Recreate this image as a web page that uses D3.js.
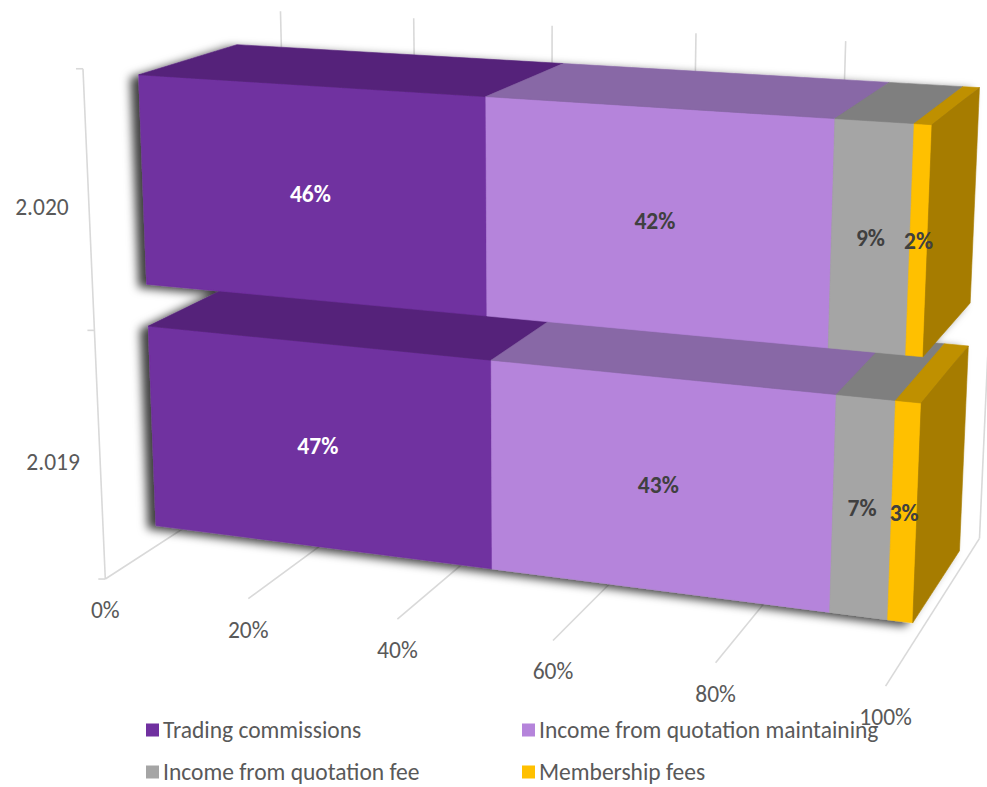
<!DOCTYPE html>
<html>
<head>
<meta charset="utf-8">
<script src="https://cdn.jsdelivr.net/npm/d3@7"></script>
<style>
  body { margin: 0; background: #ffffff; }
  svg { display: block; }
  text { font-family: Carlito, Calibri, Lato, sans-serif; }
</style>
</head>
<body>
<svg id="chart" width="987" height="787"></svg>
<script>
// ---- data ----
const years = ["2.019", "2.020"];
const seriesNames = ["Trading commissions", "Income from quotation maintaining", "Income from quotation fee", "Membership fees"];
const shares2019 = [47, 43, 7, 3];
const shares2020 = [46, 42, 9, 2];
const valueTicks = [0, 0.2, 0.4, 0.6, 0.8, 1];
const tickLabels = ["0%", "20%", "40%", "60%", "80%", "100%"];

// ---- styles ----
const frontColors = ["#7030A0", "#B584DB", "#A5A5A5", "#FFC000"];
const topColors   = ["#55247A", "#8867A6", "#7F7F7F", "#BF9000"];
const sideColors  = ["#4A1F6B", "#7A5C96", "#6E6E6E", "#A67C00"];
const labelColors = ["#FFFFFF", "#404040", "#404040", "#404040"];
const gridColor = "#D9D9D9";
const textColor = "#595959";
const fontSize = 23.5;

const svg = d3.select("#chart");

// ---- perspective camera (world: X = value, Y = up, Z = depth away from viewer) ----
const camera = { cx: 535, cy: 326, focal: 2623, yaw: 20.5, pitch: 14.6, eye: [162.9, 116.3, -278.2] };
const rad = Math.PI / 180;
const sa = Math.sin(camera.yaw * rad), ca = Math.cos(camera.yaw * rad);
const st = Math.sin(camera.pitch * rad), ct = Math.cos(camera.pitch * rad);
const camRight = [ca, 0, sa];
const camDown = [sa * st, -ct, -ca * st];
const camFwd = [-sa * ct, -st, ca * ct];
const dot = (a, b) => a[0] * b[0] + a[1] * b[1] + a[2] * b[2];

function project(p) {
  const v = [p[0] - camera.eye[0], p[1] - camera.eye[1], p[2] - camera.eye[2]];
  const zc = dot(v, camFwd);
  return [camera.cx + camera.focal * dot(v, camRight) / zc,
          camera.cy + camera.focal * dot(v, camDown) / zc];
}
function polyPath(pts, closed = true) {
  return "M" + pts.map(p => project(p).map(n => n.toFixed(2)).join(",")).join("L") + (closed ? "Z" : "");
}

// ---- scales in world units ----
const xW = d3.scaleLinear().domain([0, 1]).range([0, 102]);
const yW = d3.scaleBand().domain(years).range([0, 66]).paddingInner(0.17).paddingOuter(0.085);
const zW = d3.scaleLinear().domain([0, 1]).range([0, 55]);
const barZ = [zW(0.25), zW(0.75)];
const topY = yW.range()[1];

// ---- stacked (100%) layout ----
const rows = years.map((yr, i) => {
  const vals = i === 0 ? shares2019 : shares2020;
  const o = { year: yr };
  seriesNames.forEach((s, j) => { o[s] = vals[j]; });
  return o;
});
const stacked = d3.stack().keys(seriesNames).offset(d3.stackOffsetExpand)(rows);

// ---- walls / floor gridlines ----
const grid = svg.append("g").attr("fill", "none").attr("stroke", gridColor).attr("stroke-width", 1.6);
valueTicks.forEach(t => {
  // back wall vertical
  grid.append("path").attr("d", polyPath([[xW(t), 0, zW(1)], [xW(t), topY, zW(1)]], false));
  // floor line, front to back
  grid.append("path").attr("d", polyPath([[xW(t), 0, zW(0)], [xW(t), 0, zW(1)]], false));
});
// category axis line on the front-left edge, with tick marks at category boundaries
grid.append("path").attr("d", polyPath([[0, 0, 0], [0, topY, 0]], false));
[0, yW.step(), topY].forEach(v => {
  const p = project([0, v, 0]);
  grid.append("line").attr("x1", p[0] - 7).attr("y1", p[1]).attr("x2", p[0]).attr("y2", p[1]);
});

// ---- bars ----
const defs = svg.append("defs");
const filt = defs.append("filter").attr("id", "barShadow")
  .attr("x", "-10%").attr("y", "-10%").attr("width", "120%").attr("height", "120%");
filt.append("feDropShadow").attr("dx", -8).attr("dy", 3).attr("stdDeviation", 5)
  .attr("flood-color", "#000").attr("flood-opacity", 0.75);

const bars = svg.append("g").attr("filter", "url(#barShadow)");
const labels = [];
years.forEach((yr, i) => {
  const y0 = yW(yr), y1 = yW(yr) + yW.bandwidth();
  const [z0, z1] = barZ;
  const g = bars.append("g");
  stacked.forEach((layer, j) => {
    const x0 = xW(layer[i][0]), x1 = xW(layer[i][1]);
    const faces = [
      { pts: [[x0, y0, z0], [x1, y0, z0], [x1, y1, z0], [x0, y1, z0]], fill: frontColors[j] },
      { pts: [[x0, y1, z0], [x1, y1, z0], [x1, y1, z1], [x0, y1, z1]], fill: topColors[j] }
    ];
    if (j === stacked.length - 1) {
      faces.push({ pts: [[x1, y0, z0], [x1, y1, z0], [x1, y1, z1], [x1, y0, z1]], fill: sideColors[j] });
    }
    faces.forEach(f => {
      g.append("path").attr("d", polyPath(f.pts)).attr("fill", f.fill)
        .attr("stroke", f.fill).attr("stroke-width", 0.6).attr("stroke-linejoin", "round");
    });
    const c = project([(x0 + x1) / 2, (y0 + y1) / 2, z0]);
    labels.push({ x: c[0], y: c[1], text: d3.format(".0%")(layer[i].data[seriesNames[j]] / 100), color: labelColors[j] });
  });
});

// ---- data labels ----
svg.append("g").selectAll("text").data(labels).join("text")
  .attr("x", d => d.x).attr("y", d => d.y)
  .attr("text-anchor", "middle").attr("dominant-baseline", "central")
  .attr("font-size", fontSize).attr("font-weight", "bold")
  .attr("fill", d => d.color).text(d => d.text);

// ---- value axis labels along the front floor edge ----
svg.append("g").selectAll("text").data(valueTicks).join("text")
  .attr("x", t => project([xW(t), 0, 0])[0])
  .attr("y", t => project([xW(t), 0, 0])[1] + 31)
  .attr("text-anchor", "middle").attr("dominant-baseline", "central")
  .attr("font-size", fontSize).attr("fill", textColor)
  .text((t, i) => tickLabels[i]);

// ---- category labels ----
svg.append("g").selectAll("text").data(years).join("text")
  .attr("x", d => project([0, yW(d) + yW.bandwidth() / 2, 0])[0] - 20)
  .attr("y", d => project([0, yW(d) + yW.bandwidth() / 2, 0])[1] + 6)
  .attr("text-anchor", "end").attr("dominant-baseline", "central")
  .attr("font-size", fontSize).attr("fill", textColor)
  .text(d => d);

// ---- legend ----
const legendX = d3.scalePoint().domain([0, 1]).range([146, 522]);
const legendY = d3.scalePoint().domain([0, 1]).range([730, 772]);
const legend = svg.append("g");
seriesNames.forEach((name, j) => {
  const lx = legendX(j % 2), ly = legendY(Math.floor(j / 2));
  legend.append("rect").attr("x", lx).attr("y", ly - 6.5).attr("width", 13).attr("height", 13).attr("fill", frontColors[j]);
  legend.append("text").attr("x", lx + 17).attr("y", ly).attr("dominant-baseline", "central")
    .attr("font-size", fontSize).attr("fill", textColor).text(name);
});
</script>
</body>
</html>
